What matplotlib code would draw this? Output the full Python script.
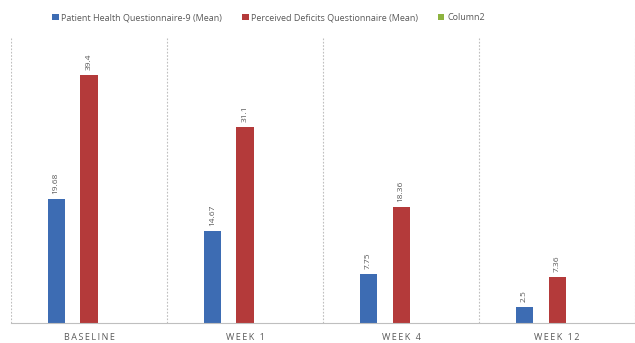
import matplotlib
matplotlib.use('Agg')
import matplotlib.pyplot as plt
import numpy as np

# Data
categories = ['BASELINE', 'WEEK 1', 'WEEK 4', 'WEEK 12']
phq9 = [19.68, 14.67, 7.75, 2.5]
pdq = [39.4, 31.1, 18.36, 7.36]
column2 = [0, 0, 0, 0]
phq9_labels = ['19.68', '14.67', '7.75', '2.5']
pdq_labels = ['39.4', '31.1', '18.36', '7.36']

plt.rcParams['font.family'] = ['Open Sans', 'DejaVu Sans']

blue = '#3D6CB3'
red = '#B43A3A'
green = '#8DB33F'
grey = '#595959'

fig = plt.figure(figsize=(6.35, 3.43), dpi=100)
ax = fig.add_axes([0.0173, 0.0583, 0.983, 0.834])

x = np.arange(len(categories))
w = 0.11
off = 0.21
b1 = ax.bar(x - off, phq9, w, color=blue, label='Patient Health Questionnaire-9 (Mean)')
b2 = ax.bar(x, pdq, w, color=red, label='Perceived Deficits Questionnaire (Mean)')
b3 = ax.bar(x + off, column2, w, color=green, label='Column2')

for bars, labs in [(b1, phq9_labels), (b2, pdq_labels)]:
    for b, t in zip(bars, labs):
        ax.text(b.get_x() + b.get_width() / 2, b.get_height() + 0.8, t,
                rotation=90, ha='center', va='bottom', fontsize=6, color=grey)

ax.set_xlim(-0.5, len(categories) - 0.5)
ax.set_ylim(0, 45.4)
ax.set_yticks([])
ax.set_xticks(x)
# spaced-out caps like the original
ax.set_xticklabels(['\u2009'.join(c) for c in categories], fontsize=6.5, color=grey)
ax.tick_params(axis='x', length=0, pad=7)

for s in ['top', 'right', 'left']:
    ax.spines[s].set_visible(False)
ax.spines['bottom'].set_color('#BFBFBF')
ax.spines['bottom'].set_linestyle((0, (2, 1)))
ax.spines['bottom'].set_linewidth(0.8)

# category separators
for xs in np.arange(-0.5, len(categories), 1.0):
    ax.axvline(xs, color='#BFBFBF', linestyle=(0, (1.5, 1.5)), linewidth=0.8)

fig.legend(loc='upper center', bbox_to_anchor=(0.423, 0.985), ncol=3, frameon=False,
           fontsize=6.5, handlelength=0.7, handleheight=0.7, handletextpad=0.3,
           columnspacing=2.2, labelcolor=grey)

fig.savefig('out.png', dpi=100)
